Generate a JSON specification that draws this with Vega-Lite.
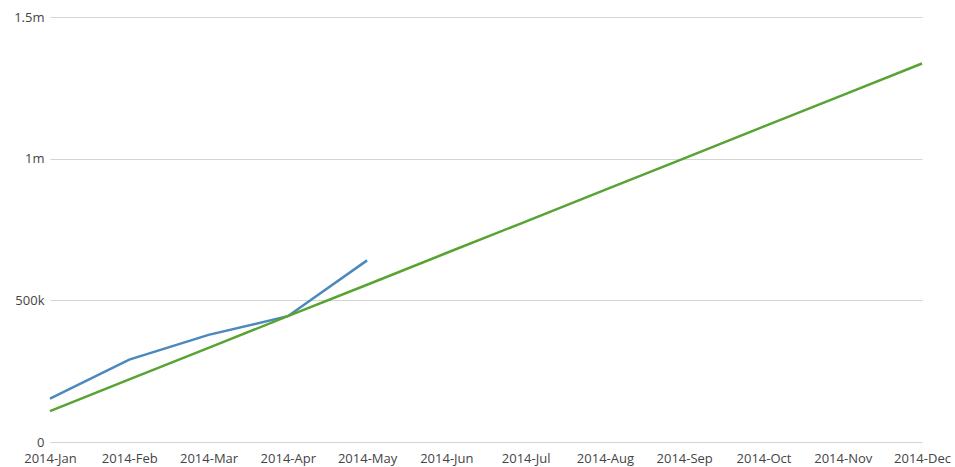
{
  "$schema": "https://vega.github.io/schema/vega-lite/v6.json",
  "autosize": {"type": "none"},
  "width": 872,
  "height": 425,
  "padding": {"left": 50, "top": 17, "right": 33, "bottom": 25},
  "background": "white",
  "data": {
    "values": [
      {"month": "2014-Jan", "series": "actual", "value": 153000},
      {"month": "2014-Feb", "series": "actual", "value": 291000},
      {"month": "2014-Mar", "series": "actual", "value": 378000},
      {"month": "2014-Apr", "series": "actual", "value": 444000},
      {"month": "2014-May", "series": "actual", "value": 641000},
      {"month": "2014-Jan", "series": "trend", "value": 109000},
      {"month": "2014-Feb", "series": "trend", "value": 221000},
      {"month": "2014-Mar", "series": "trend", "value": 332000},
      {"month": "2014-Apr", "series": "trend", "value": 444000},
      {"month": "2014-May", "series": "trend", "value": 555000},
      {"month": "2014-Jun", "series": "trend", "value": 667000},
      {"month": "2014-Jul", "series": "trend", "value": 778000},
      {"month": "2014-Aug", "series": "trend", "value": 890000},
      {"month": "2014-Sep", "series": "trend", "value": 1001000},
      {"month": "2014-Oct", "series": "trend", "value": 1113000},
      {"month": "2014-Nov", "series": "trend", "value": 1224000},
      {"month": "2014-Dec", "series": "trend", "value": 1336000}
    ]
  },
  "config": {
    "view": {"stroke": null},
    "font": "Open Sans"
  },
  "mark": {"type": "line", "strokeWidth": 2.5, "clip": false},
  "encoding": {
    "x": {
      "field": "month",
      "type": "ordinal",
      "sort": ["2014-Jan","2014-Feb","2014-Mar","2014-Apr","2014-May","2014-Jun","2014-Jul","2014-Aug","2014-Sep","2014-Oct","2014-Nov","2014-Dec"],
      "scale": {"type": "point", "padding": 0},
      "axis": {
        "title": null,
        "domain": false,
        "ticks": false,
        "grid": false,
        "labelAngle": 0,
        "labelFont": "Open Sans",
        "labelFontSize": 13,
        "labelColor": "#444444",
        "labelPadding": 10
      }
    },
    "y": {
      "field": "value",
      "type": "quantitative",
      "scale": {"domain": [0, 1500000], "nice": false},
      "axis": {
        "title": null,
        "values": [0, 500000, 1000000, 1500000],
        "labelExpr": "datum.value == 0 ? '0' : (datum.value >= 1000000 ? (datum.value/1000000) + 'm' : (datum.value/1000) + 'k')",
        "domain": false,
        "ticks": false,
        "grid": true,
        "gridColor": "#d4d4d4",
        "gridWidth": 1,
        "labelFont": "Open Sans",
        "labelFontSize": 13,
        "labelColor": "#444444",
        "labelPadding": 6
      }
    },
    "color": {
      "field": "series",
      "type": "nominal",
      "scale": {"domain": ["actual", "trend"], "range": ["#4b88bb", "#58a331"]},
      "legend": null
    }
  }
}
